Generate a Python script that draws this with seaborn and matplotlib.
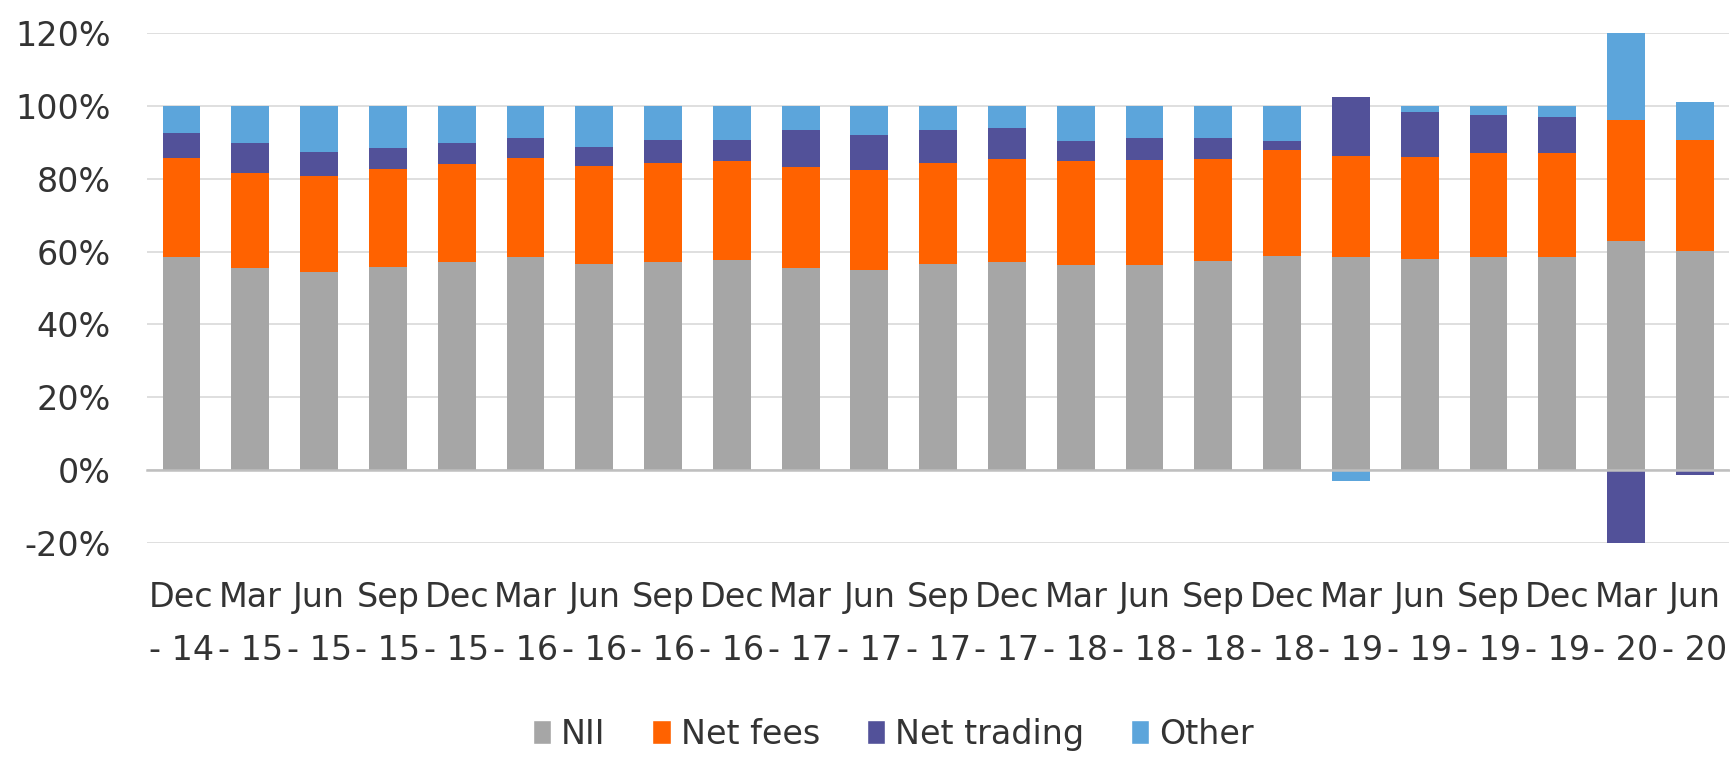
import numpy as np
import matplotlib
matplotlib.use('Agg')
import matplotlib.pyplot as plt
from matplotlib.patches import Patch
import seaborn as sns

# Data (share of operating income, %)
quarters = ['Dec\n- 14', 'Mar\n- 15', 'Jun\n- 15', 'Sep\n- 15', 'Dec\n- 15', 'Mar\n- 16',
            'Jun\n- 16', 'Sep\n- 16', 'Dec\n- 16', 'Mar\n- 17', 'Jun\n- 17', 'Sep\n- 17',
            'Dec\n- 17', 'Mar\n- 18', 'Jun\n- 18', 'Sep\n- 18', 'Dec\n- 18', 'Mar\n- 19',
            'Jun\n- 19', 'Sep\n- 19', 'Dec\n- 19', 'Mar\n- 20', 'Jun\n- 20']
nii = [58.6, 55.4, 54.5, 55.8, 57.2, 58.6, 56.5, 57.2, 57.7, 55.4, 54.9, 56.5,
       57.2, 56.3, 56.3, 57.4, 58.7, 58.5, 57.9, 58.5, 58.5, 62.8, 60.1]
net_fees = [27.1, 26.2, 26.2, 26.9, 26.9, 27.1, 26.9, 27.1, 27.3, 27.8, 27.6, 27.8,
            28.2, 28.7, 28.9, 28.1, 29.1, 27.8, 28.1, 28.5, 28.5, 33.3, 30.5]
net_trading = [6.8, 8.2, 6.7, 5.7, 5.7, 5.5, 5.4, 6.4, 5.7, 10.2, 9.5, 9.1,
               8.5, 5.3, 6.0, 5.6, 2.6, 16.3, 12.5, 10.6, 10.0, -20.0, -1.5]
other = [7.5, 10.2, 12.6, 11.6, 10.2, 8.8, 11.2, 9.3, 9.3, 6.6, 8.0, 6.6,
         6.1, 9.7, 8.8, 8.9, 9.6, -2.9, 1.5, 2.4, 3.0, 23.9, 10.6]

series_names = ['NII', 'Net fees', 'Net trading', 'Other']
series_values = [nii, net_fees, net_trading, other]
colors = ['#A6A6A6', '#FF6200', '#525199', '#5CA5DB']

sns.set_style('white')
plt.rcParams['font.family'] = ['DejaVu Sans']
text_color = '#333333'

fig = plt.figure(figsize=(17.31, 7.57), dpi=100)
ax = fig.add_axes([0.085, 0.283, 0.914, 0.673])

# stacked bars: positives stack up, negatives stack down
pos_base = np.zeros(len(quarters))
neg_base = np.zeros(len(quarters))
for name, vals, c in zip(series_names, series_values, colors):
    v = np.array(vals)
    bottoms = np.where(v >= 0, pos_base, neg_base)
    sns.barplot(x=quarters, y=v, bottom=bottoms, color=c, width=0.55,
                errorbar=None, saturation=1, linewidth=0, ax=ax, zorder=3)
    pos_base = pos_base + np.where(v >= 0, v, 0)
    neg_base = neg_base + np.where(v < 0, v, 0)

ax.set_ylim(-20, 120)
ax.set_xlim(-0.5, len(quarters) - 0.5)
ax.set_yticks(np.arange(-20, 121, 20))
ax.set_yticklabels([f'{t}%' for t in range(-20, 121, 20)])
ax.yaxis.grid(True, color='#DCDCDC', linewidth=1.3, zorder=0)
ax.set_axisbelow(True)

for s in ['top', 'right', 'left']:
    ax.spines[s].set_visible(False)
ax.spines['bottom'].set_position(('data', 0))
ax.spines['bottom'].set_color('#BFBFBF')
ax.spines['bottom'].set_linewidth(1.8)
ax.spines['bottom'].set_zorder(4)

ax.set_xticks(np.arange(-0.5, len(quarters), 1.0), minor=True)
ax.tick_params(axis='x', which='minor', length=8, width=1.5, color='#BFBFBF', direction='out')
ax.tick_params(axis='x', which='major', length=0, pad=80, labelsize=24, labelcolor=text_color)
ax.tick_params(axis='y', length=0, pad=26, labelsize=24, labelcolor=text_color)
for lab in ax.get_xticklabels():
    lab.set_linespacing(1.75)
ax.set_xlabel('')
ax.set_ylabel('')

handles = [Patch(facecolor=c, label=n) for n, c in zip(series_names, colors)]
fig.legend(handles=handles, loc='center', bbox_to_anchor=(0.516, 0.03), ncol=4,
           frameon=False, fontsize=24, handlelength=0.55, handleheight=0.7,
           handletextpad=0.3, columnspacing=1.4, labelcolor=text_color)

fig.savefig('out.png', dpi=100)
